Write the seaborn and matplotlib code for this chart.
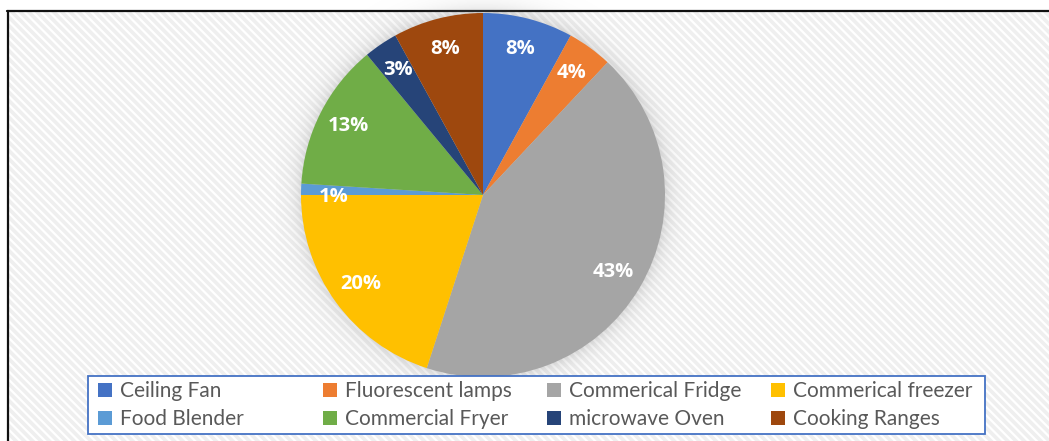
import numpy as np
import matplotlib
matplotlib.use("Agg")
import matplotlib.pyplot as plt
from matplotlib.patches import Rectangle, Patch
from matplotlib.lines import Line2D
import seaborn as sns

# Share of energy use by appliance (percent)
appliances = ["Ceiling Fan", "Fluorescent lamps", "Commerical Fridge", "Commerical freezer",
              "Food Blender", "Commercial Fryer", "microwave Oven", "Cooking Ranges"]
shares = [8, 4, 43, 20, 1, 13, 3, 8]
slice_colors = ["#4472C4", "#ED7D31", "#A5A5A5", "#FFC000",
                "#5B9BD5", "#70AD47", "#264478", "#9E480E"]

sns.set_style("white")
plt.rcParams["font.family"] = ["Lato", "DejaVu Sans"]
plt.rcParams["hatch.linewidth"] = 2.6
palette = sns.color_palette(slice_colors)

W, H, DPI = 1049, 441, 100
fig = plt.figure(figsize=(W / DPI, H / DPI), dpi=DPI)
fig.patch.set_facecolor("white")

# Hatched chart area with a dark frame on top/left
bg = Rectangle((8 / W, -0.1), 1.2, (H - 11) / H + 0.1, transform=fig.transFigure,
               facecolor="white", edgecolor="#efefef", hatch="\\\\\\\\", linewidth=0, zorder=-5)
fig.add_artist(bg)
fig.add_artist(Line2D([7 / W, 1.0], [1 - 11 / H, 1 - 11 / H], transform=fig.transFigure,
                      color="#111111", linewidth=1.6, zorder=-4))
fig.add_artist(Line2D([8 / W, 8 / W], [0, 1 - 11 / H], transform=fig.transFigure,
                      color="#111111", linewidth=1.6, zorder=-4))

# Pie axes
cx, cy, R = 483, 441 - 195, 182
lim = 1.14
half = R * lim
ax = fig.add_axes([(cx - half) / W, (cy - half) / H, 2 * half / W, 2 * half / H])
ax.set_zorder(1)
ax.axis("off")
ax.patch.set_alpha(0)

# Soft shadow around the pie
n = 400
g = np.linspace(-lim, lim, n)
xx, yy = np.meshgrid(g, g)
rr = np.hypot(xx, yy)
alpha = np.where(rr > 0.98, 0.38 * np.exp(-np.clip(rr - 0.98, 0, None) / 0.05), 0.38)
shadow = np.zeros((n, n, 4))
shadow[..., :3] = 0.52
shadow[..., 3] = alpha
ax.imshow(shadow, extent=(-lim, lim, -lim, lim), origin="lower", zorder=1, interpolation="bilinear")

wedges, texts, autotexts = ax.pie(
    shares, colors=palette, startangle=90, counterclock=False, radius=1.0,
    autopct=lambda p: f"{p:.0f}%", pctdistance=0.83,
    wedgeprops=dict(linewidth=0),
    textprops=dict(color="white", fontsize=14.5, fontweight="bold", family="Open Sans"),
)
for w in wedges:
    w.set_zorder(2)
for t in autotexts:
    t.set_zorder(3)
# the thin slice's label sits just below its wedge
x1, y1 = autotexts[4].get_position()
autotexts[4].set_position((x1 + 0.01, y1 - 0.035))
ax.set_xlim(-lim, lim)
ax.set_ylim(-lim, lim)
ax.set_aspect("equal")

# Legend: boxed, two rows by four equal columns
box_l, box_t, box_r, box_b = 88, 376, 985, 434
fig.add_artist(Rectangle((box_l / W, 1 - box_b / H), (box_r - box_l) / W, (box_b - box_t) / H,
                         transform=fig.transFigure, facecolor="white", edgecolor="#4472C4",
                         linewidth=1.3, zorder=4))
col_x = [98, 323, 547, 771]
for c in range(4):
    idx = [c, c + 4]
    handles = [Patch(facecolor=palette[i], edgecolor="none") for i in idx]
    leg = fig.legend(handles, [appliances[i] for i in idx], loc="upper left",
                     bbox_to_anchor=(col_x[c] / W, 1 - 381 / H), frameon=False,
                     fontsize=15, labelcolor="#595959", handlelength=0.65, handleheight=0.65,
                     handletextpad=0.4, borderpad=0, borderaxespad=0, labelspacing=0.4)
    leg.set_zorder(5)

fig.savefig("out.png", dpi=DPI)
